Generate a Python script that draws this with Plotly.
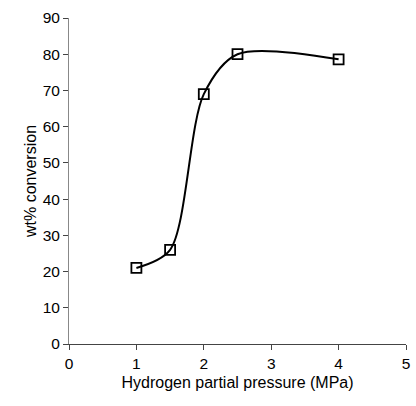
import plotly.graph_objects as go

pressure = [1, 1.5, 2, 2.5, 4]
conversion = [21, 26, 69, 80, 78.6]
x_ticks = [0, 1, 2, 3, 4, 5]
y_ticks = [0, 10, 20, 30, 40, 50, 60, 70, 80, 90]

fig = go.Figure()
fig.add_trace(go.Scatter(
    x=pressure, y=conversion, mode="lines+markers",
    line=dict(color="black", width=2, shape="spline", smoothing=0.85),
    marker=dict(symbol="square-open", size=10, color="black", line=dict(width=1.8)),
    showlegend=False,
))
tick_font = dict(family="Liberation Sans, Arial", size=15.5, color="black")
title_font = dict(family="Liberation Sans, Arial", size=16, color="black")
fig.update_layout(
    width=416, height=406,
    margin=dict(l=69, r=6, t=18, b=62),
    plot_bgcolor="white", paper_bgcolor="white",
    font=tick_font,
    xaxis=dict(range=[0, 5], tickvals=x_ticks, showgrid=False, zeroline=False,
               showline=True, linecolor="#444", linewidth=1, ticks="outside",
               ticklen=5, tickcolor="#444", tickfont=tick_font,
               title=dict(text="Hydrogen partial pressure (MPa)", font=title_font, standoff=6)),
    yaxis=dict(range=[0, 90], tickvals=y_ticks, showgrid=False, zeroline=False,
               showline=True, linecolor="#888", linewidth=1, ticks="outside",
               ticklen=5, tickcolor="#444", tickfont=tick_font,
               title=dict(text="wt% conversion", font=title_font, standoff=2)),
)
fig.write_html("out.html")
